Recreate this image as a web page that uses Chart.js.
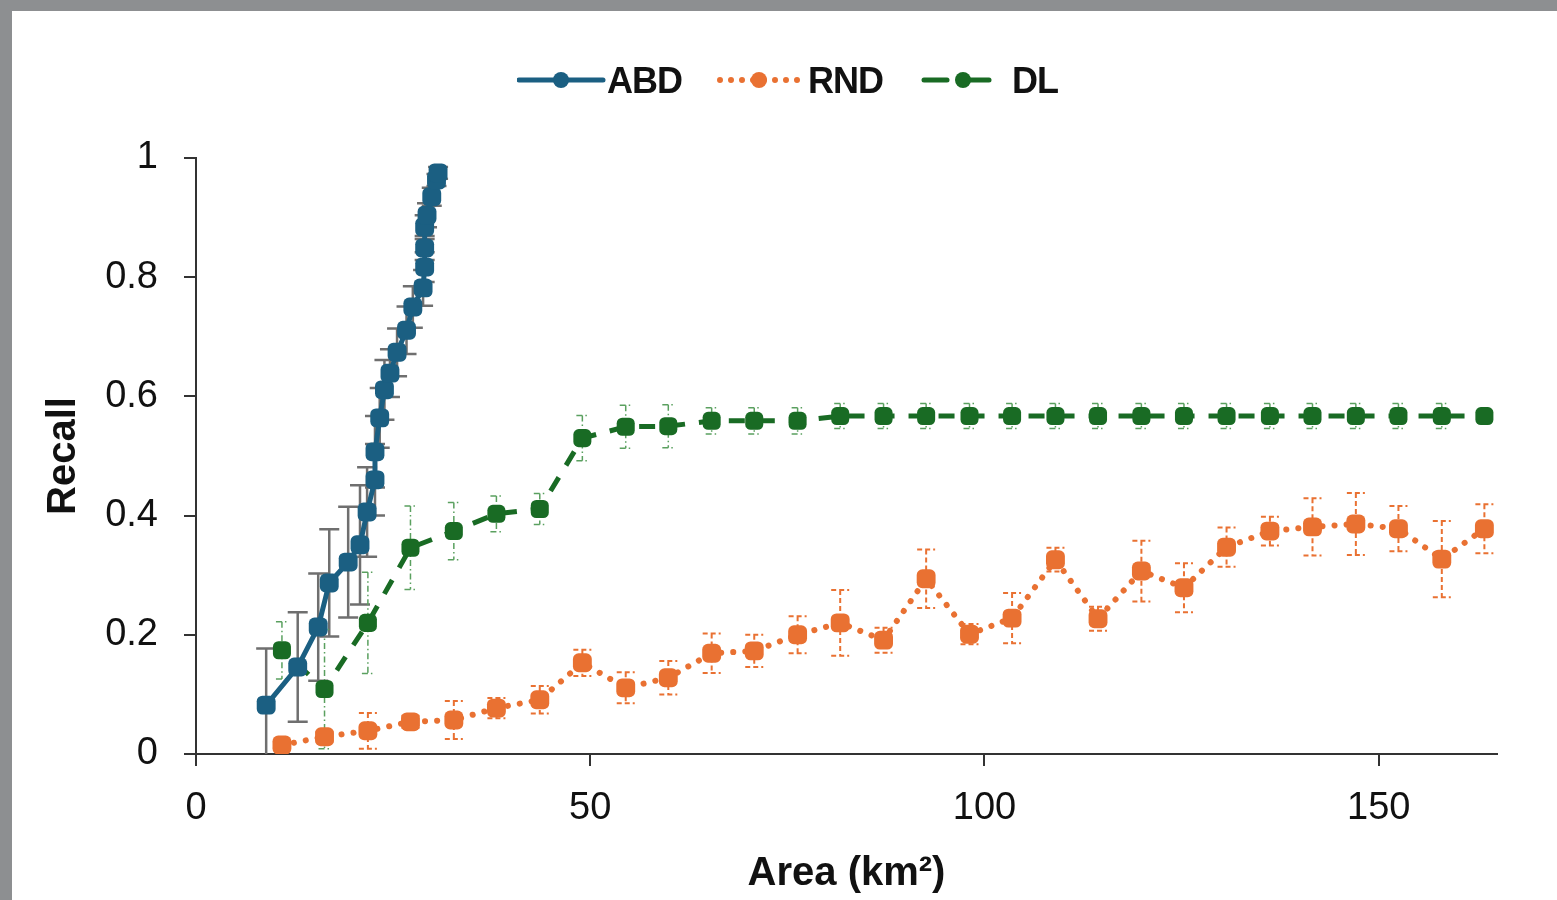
<!DOCTYPE html>
<html>
<head>
<meta charset="utf-8">
<script src="https://cdn.jsdelivr.net/npm/chart.js@4.4.1/dist/chart.umd.min.js"></script>
<style>
  html, body { margin: 0; padding: 0; }
  body { width: 1557px; height: 900px; background: #8d8f91; overflow: hidden; position: relative; }
  #panel { position: absolute; left: 12px; top: 11px; width: 1545px; height: 889px; background: #fff; }
  #chart { position: absolute; left: 0; top: 0; }
  .lg { position: absolute; top: 49px; height: 40px; line-height: 40px; font: bold 36px "Liberation Sans", sans-serif; letter-spacing: -1px; color: #111; }
  .lg svg { position: absolute; top: 10px; }
</style>
</head>
<body>
<div id="panel">
  <canvas id="chart" width="1545" height="889"></canvas>
  <div class="lg" style="left:505px"><svg width="90" height="20"><line x1="2" y1="10" x2="86" y2="10" stroke="#1b5f82" stroke-width="5" stroke-linecap="round"/><circle cx="44" cy="10" r="8" fill="#1b5f82"/></svg><span style="position:absolute;left:90px">ABD</span></div>
  <div class="lg" style="left:705px"><svg width="86" height="20"><line x1="3" y1="10" x2="84" y2="10" stroke="#e97132" stroke-width="6" stroke-linecap="round" stroke-dasharray="0 11"/><circle cx="42" cy="10" r="8" fill="#e97132"/></svg><span style="position:absolute;left:91px">RND</span></div>
  <div class="lg" style="left:909px"><svg width="72" height="20"><line x1="3" y1="10" x2="26" y2="10" stroke="#196b24" stroke-width="5" stroke-linecap="round"/><line x1="48" y1="10" x2="68" y2="10" stroke="#196b24" stroke-width="5" stroke-linecap="round"/><circle cx="42" cy="10" r="8" fill="#196b24"/></svg><span style="position:absolute;left:91px">DL</span></div>
</div>
<script>
// ---------- DATA ----------
const abdX = [8.9, 12.9, 15.5, 16.9, 19.3, 20.8, 21.7, 22.7, 22.7, 23.3, 23.9, 24.6, 25.5, 26.7, 27.5, 28.8, 29.0, 29.0, 29.0, 29.3, 29.9, 30.5, 30.7];
const abdY = [0.082, 0.146, 0.213, 0.287, 0.322, 0.351, 0.406, 0.460, 0.507, 0.564, 0.611, 0.639, 0.674, 0.711, 0.750, 0.782, 0.817, 0.849, 0.884, 0.904, 0.935, 0.963, 0.975];
const abdErr = [0.095, 0.092, 0.09, 0.09, 0.093, 0.1, 0.075, 0.06, 0.06, 0.05, 0.05, 0.04, 0.04, 0.04, 0.035, 0.03, 0.025, 0.02, 0.02, 0.02, 0.015, 0.01, 0.01];

const areaX = [10.9, 16.3, 21.8, 27.2, 32.7, 38.1, 43.6, 49.0, 54.5, 59.9, 65.4, 70.8, 76.3, 81.7, 87.2, 92.6, 98.1, 103.5, 109.0, 114.4, 119.9, 125.3, 130.7, 136.2, 141.6, 147.1, 152.5, 158.0, 163.4];

const rndY = [0.015, 0.029, 0.039, 0.054, 0.057, 0.077, 0.091, 0.153, 0.111, 0.128, 0.169, 0.173, 0.200, 0.220, 0.191, 0.294, 0.201, 0.228, 0.326, 0.227, 0.307, 0.279, 0.347, 0.374, 0.381, 0.386, 0.378, 0.327, 0.378];
const rndErr = [0.005, 0.008, 0.03, 0.01, 0.032, 0.017, 0.023, 0.022, 0.026, 0.028, 0.033, 0.027, 0.031, 0.055, 0.021, 0.049, 0.017, 0.042, 0.02, 0.02, 0.051, 0.041, 0.033, 0.024, 0.048, 0.052, 0.038, 0.064, 0.041];

const dlY = [0.174, 0.109, 0.220, 0.346, 0.374, 0.403, 0.411, 0.530, 0.549, 0.550, 0.559, 0.559, 0.559, 0.567, 0.567, 0.567, 0.567, 0.567, 0.567, 0.567, 0.567, 0.567, 0.567, 0.567, 0.567, 0.567, 0.567, 0.567, 0.567];
const dlErr = [0.048, 0.1, 0.085, 0.07, 0.048, 0.03, 0.026, 0.038, 0.036, 0.036, 0.022, 0.022, 0.022, 0.021, 0.021, 0.021, 0.021, 0.021, 0.021, 0.021, 0.021, 0.021, 0.021, 0.021, 0.021, 0.021, 0.021, 0.021, 0.005];

const xTicks = [0, 50, 100, 150];
const yTicks = [0, 0.2, 0.4, 0.6, 0.8, 1];

const BLUE = "#1b5f82", ORANGE = "#e97132", GREEN = "#196b24";
const FONT = "'Liberation Sans', sans-serif";

const pts = (xs, ys) => xs.map((x, i) => ({ x, y: ys[i] }));

// error bars drawn under the lines, through the chart scales
const errorBars = {
  id: "errorBars",
  beforeDatasetsDraw(chart) {
    const { ctx, scales: { x, y } } = chart;
    chart.data.datasets.forEach((ds) => {
      const st = ds.errStyle;
      ctx.save();
      ctx.strokeStyle = st.color;
      ctx.lineWidth = st.width;
      ctx.setLineDash(st.dash);
      ds.data.forEach((p, j) => {
        const e = ds.err[j];
        const px = x.getPixelForValue(p.x);
        const top = y.getPixelForValue(p.y + e);
        const lowVal = p.y - e;
        const bot = y.getPixelForValue(Math.max(lowVal, 0));
        ctx.beginPath();
        ctx.moveTo(px, top); ctx.lineTo(px, bot);
        ctx.moveTo(px - st.cap, top); ctx.lineTo(px + st.cap, top);
        if (lowVal >= 0) { ctx.moveTo(px - st.cap, bot); ctx.lineTo(px + st.cap, bot); }
        ctx.stroke();
      });
      ctx.restore();
    });
  }
};

new Chart(document.getElementById("chart"), {
  type: "line",
  data: {
    datasets: [
      {
        label: "ABD", data: pts(abdX, abdY), err: abdErr,
        errStyle: { color: "#6f6f6f", width: 2.5, dash: [], cap: 10 },
        borderColor: BLUE, backgroundColor: BLUE, borderWidth: 5,
        pointStyle: "rectRounded", pointRadius: 11, pointBorderWidth: 0
      },
      {
        label: "RND", data: pts(areaX, rndY), err: rndErr,
        errStyle: { color: ORANGE, width: 2, dash: [5, 3], cap: 9 },
        borderColor: ORANGE, backgroundColor: ORANGE, borderWidth: 6,
        borderDash: [0.1, 12], borderCapStyle: "round",
        pointStyle: "rectRounded", pointRadius: 11, pointBorderWidth: 0
      },
      {
        label: "DL", data: pts(areaX, dlY), err: dlErr,
        errStyle: { color: "#5aa05f", width: 1.5, dash: [6, 3, 1.5, 3], cap: 6 },
        borderColor: GREEN, backgroundColor: GREEN, borderWidth: 5,
        borderDash: [16, 14], borderDashOffset: 10,
        pointStyle: "rectRounded", pointRadius: 10.5, pointBorderWidth: 0
      }
    ]
  },
  options: {
    responsive: false,
    animation: false,
    layout: { padding: { left: 28, top: 147, right: 60, bottom: 0 } },
    plugins: { legend: { display: false }, tooltip: { enabled: false } },
    scales: {
      x: {
        type: "linear", min: 0, max: 165,
        afterFit: (s) => { s.height = 146; },
        afterBuildTicks: (s) => { s.ticks = xTicks.map((v) => ({ value: v })); },
        border: { color: "#333", width: 2 },
        grid: { drawOnChartArea: false, drawTicks: true, tickLength: 12, color: "#333", lineWidth: 2 },
        ticks: { color: "#111", font: { family: FONT, size: 38 }, padding: 20, maxRotation: 0 },
        title: { display: true, text: "Area (km²)", color: "#111", font: { family: FONT, size: 40, weight: "bold" }, padding: { top: 0, bottom: 2 } }
      },
      y: {
        min: 0, max: 1,
        afterFit: (s) => { s.width = 156; },
        afterBuildTicks: (s) => { s.ticks = yTicks.map((v) => ({ value: v })); },
        border: { color: "#333", width: 2 },
        grid: { drawOnChartArea: false, drawTicks: true, tickLength: 12, color: "#333", lineWidth: 2 },
        ticks: { color: "#111", font: { family: FONT, size: 38 }, padding: 26, callback: (v) => String(+v.toFixed(1)) },
        title: { display: true, text: "Recall", color: "#111", font: { family: FONT, size: 40, weight: "bold" }, padding: { top: 0, bottom: 0 } }
      }
    }
  },
  plugins: [errorBars]
});
</script>
</body>
</html>
